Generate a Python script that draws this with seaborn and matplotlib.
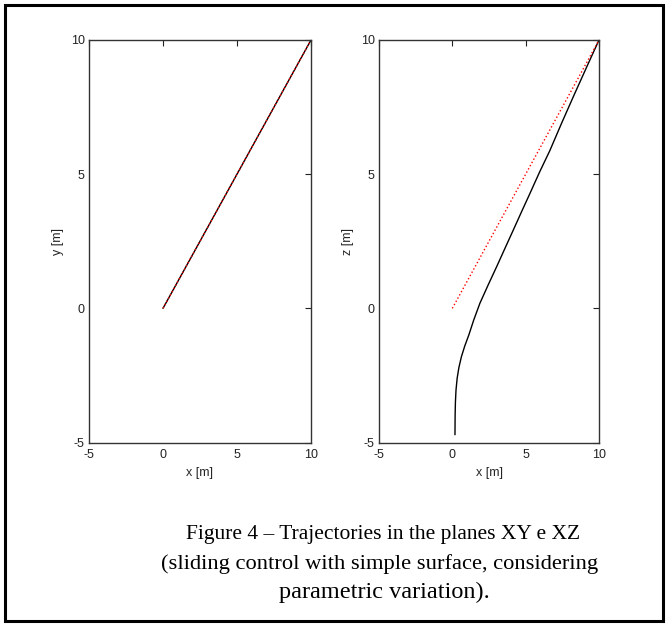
import numpy as np
import pandas as pd
import matplotlib
matplotlib.use('Agg')
import matplotlib.pyplot as plt
import seaborn as sns
from matplotlib.patches import Rectangle

# XY plane: actual and reference trajectories
x_xy = [0.0, 10.0]
y_xy_actual = [0.0, 10.0]
y_xy_ref = [0.0, 10.0]

x_xz_actual = [0.18, 0.19, 0.21, 0.25, 0.33, 0.45, 0.62, 0.85, 1.12, 1.45, 1.88, 2.45,
               3.02, 3.6, 4.15, 4.72, 5.29, 5.95, 6.65, 7.45, 8.3, 9.15, 10.0]
z_xz_actual = [-4.71, -4.0, -3.5, -3.05, -2.6, -2.2, -1.8, -1.4, -1.0, -0.45, 0.19, 0.88,
               1.55, 2.25, 2.91, 3.6, 4.28, 5.08, 5.88, 6.9, 7.95, 8.98, 10.0]
x_xz_ref = [0.0, 10.0]
z_xz_ref = [0.0, 10.0]

ticks = [-5, 0, 5, 10]
caption = [
    'Figure 4 \u2013 Trajectories in the planes XY e XZ',
    '(sliding control with simple surface, considering',
    'parametric variation).',
]

sns.set_style('white')
plt.rcParams['font.family'] = ['Liberation Sans', 'DejaVu Sans']
plt.rcParams['axes.unicode_minus'] = False

W, H = 668, 625
fig = plt.figure(figsize=(W / 100, H / 100), dpi=100)


def add_ax(left, top, right, bottom):
    return fig.add_axes([left / W, 1 - bottom / H, (right - left) / W, (bottom - top) / H])


ax1 = add_ax(89, 40, 311, 442.5)
ax2 = add_ax(379, 40, 599, 442.5)

sns.lineplot(x=x_xy, y=y_xy_actual, ax=ax1, color='black', lw=1.0,
             sort=False, estimator=None)
sns.lineplot(x=x_xy, y=y_xy_ref, ax=ax1, color='red', lw=1.0, linestyle=':',
             sort=False, estimator=None)

sns.lineplot(x=x_xz_actual, y=z_xz_actual, ax=ax2, color='black', lw=1.0,
             sort=False, estimator=None)
sns.lineplot(x=x_xz_ref, y=z_xz_ref, ax=ax2, color='red', lw=1.0, linestyle=':',
             sort=False, estimator=None)

for ax, ylab in [(ax1, 'y [m]'), (ax2, 'z [m]')]:
    ax.set_xlim(-5, 10)
    ax.set_ylim(-5, 10)
    ax.set_xticks(ticks)
    ax.set_yticks(ticks)
    ax.tick_params(direction='in', length=4, width=0.8, colors='#222222',
                   labelsize=9, top=True, right=True)
    ax.tick_params(axis='x', pad=5)
    ax.tick_params(axis='y', pad=3)
    for s in ax.spines.values():
        s.set_color('#333333')
        s.set_linewidth(1.0)
        s.set_visible(True)
    ax.set_xlabel('x [m]', fontsize=9, labelpad=4)
    ax.set_ylabel(ylab, fontsize=9, labelpad=5)

# caption
serif = ['Liberation Serif', 'DejaVu Serif']
fig.text(186 / W, 1 - 535 / H, caption[0], ha='left', va='center',
         family=serif, fontsize=15.5, color='black')
fig.text(161 / W, 1 - 564 / H, caption[1], ha='left', va='center',
         family=serif, fontsize=16.2, color='black')
fig.text(384 / W, 1 - 592 / H, caption[2], ha='center', va='center',
         family=serif, fontsize=17.5, color='black')

# outer frame
fig.patches.append(Rectangle((5 / W, 4 / H), 658 / W, 616 / H, transform=fig.transFigure,
                             fill=False, edgecolor='black', linewidth=2.2))

fig.savefig('out.png', dpi=100)
